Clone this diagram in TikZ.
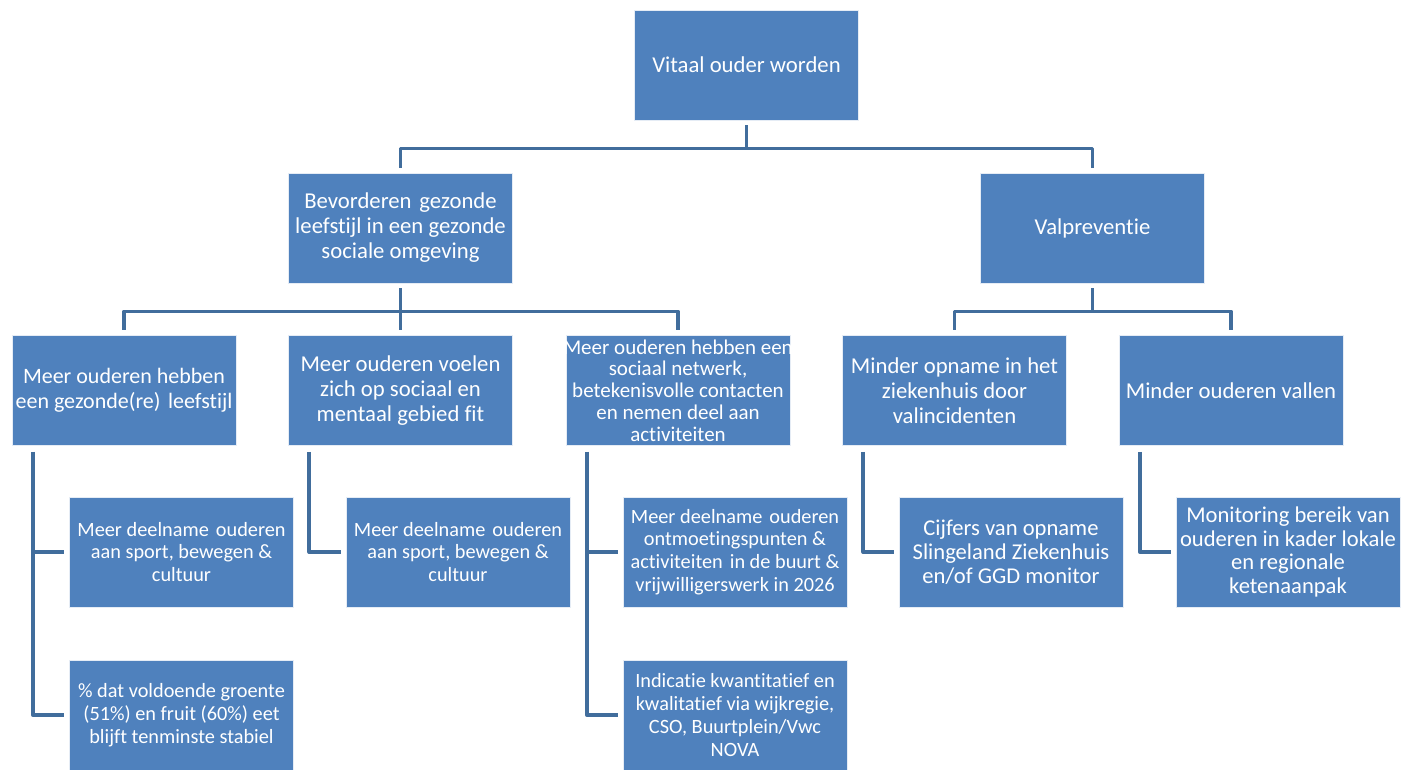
\documentclass[tikz,border=0pt]{standalone}
\usepackage{fontspec}
\setmainfont{Carlito}[Ligatures=NoCommon]
\definecolor{boxblue}{RGB}{79,129,189}
\definecolor{linkblue}{RGB}{65,109,156}
\newcommand{\wsp}{\hspace{0.12em}}
\tikzset{
  box/.style={fill=boxblue, draw=white!85!boxblue, line width=0.6pt,
    minimum width=224pt, minimum height=110pt, inner ysep=0pt, inner xsep=-8pt,
    align=center, text=white, font=\fontsize{22.7}{25}\selectfont},
  subbox/.style={box, font=\fontsize{20.3}{22.8}\selectfont},
  bigbox/.style={box, font=\fontsize{22.6}{23.8}\selectfont},
  densebox/.style={box, font=\fontsize{21}{21.8}\selectfont},
  conn/.style={draw=linkblue, line width=3.6pt, line join=round}
}
\begin{document}
\begin{tikzpicture}[x=1pt, y=-1pt]
\useasboundingbox (0,0) rectangle (1403,769);

% level 1
\node[box] (top) at (746.5,65) {Vitaal ouder worden};

% level 2
\node[box] (L) at (400.5,228) {Bevorderen\wsp{} gezonde\\leefstijl in een gezonde\\sociale omgeving};
\node[box] (R) at (1092.5,228) {Valpreventie};

% level 3
\node[box, font=\fontsize{22}{25}\selectfont] (A) at (124,390.5) {Meer ouderen hebben\\een gezonde(re)\wsp{} leefstijl};
\node[box] (B) at (400.5,390.5) {Meer ouderen voelen\\zich op sociaal en\\mentaal gebied fit};
\node[densebox] (C) at (678,390.5) {Meer ouderen hebben een\\sociaal netwerk,\\betekenisvolle contacten\\en nemen deel aan\\activiteiten};
\node[box] (D) at (954.5,390.5) {Minder opname in het\\ziekenhuis door\\valincidenten};
\node[box] (E) at (1231,390.5) {Minder ouderen vallen};

% level 4
\node[subbox] (A1) at (181.5,552) {Meer deelname\wsp{} ouderen\\aan sport, bewegen \&\\cultuur};
\node[subbox] (A2) at (181.5,715) {\% dat voldoende groente\\(51\%) en fruit (60\%) eet\\blijft tenminste stabiel};
\node[subbox] (B1) at (458,552) {Meer deelname\wsp{} ouderen\\aan sport, bewegen \&\\cultuur};
\node[subbox] (C1) at (735,552) {Meer deelname\wsp{} ouderen\\ontmoetingspunten \&\\activiteiten\wsp{} in de buurt \&\\vrijwilligerswerk in 2026};
\node[subbox] (C2) at (735,715) {Indicatie kwantitatief en\\kwalitatief via wijkregie,\\CSO, Buurtplein/Vwc\\NOVA};
\node[bigbox] (D1) at (1011,552) {Cijfers van opname\\Slingeland Ziekenhuis\\en/of GGD monitor};
\node[bigbox] (E1) at (1288,552) {Monitoring bereik van\\ouderen in kader lokale\\en regionale\\ketenaanpak};

% tree connectors
\foreach \p/\c in {top/L, top/R, L/A, L/B, L/C, R/D, R/E}
  \draw[conn] ([yshift=-5pt]\p.south) -- ++(0,-23pt) -| ([yshift=5pt]\c.north);

% side connectors
\foreach \p/\c in {A/A1, A/A2, B/B1, C/C1, C/C2, D/D1, E/E1}
  \draw[conn] ([xshift=21pt,yshift=-6pt]\p.south west) |- ([xshift=-5pt]\c.west);
\end{tikzpicture}
\end{document}
